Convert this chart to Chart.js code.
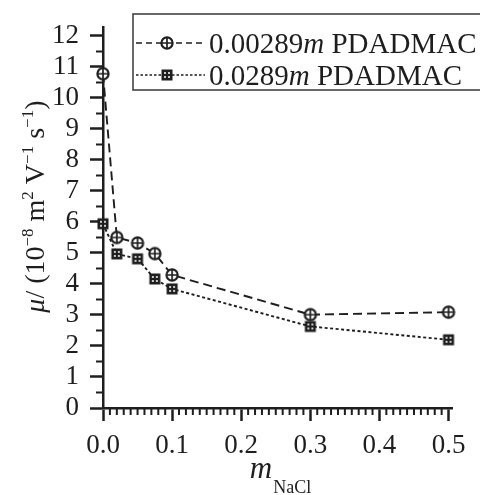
<!DOCTYPE html>
<html>
<head>
<meta charset="utf-8">
<script src="https://cdn.jsdelivr.net/npm/chart.js@4.4.1/dist/chart.umd.min.js"></script>
<style>
    html, body { margin: 0; padding: 0; background: #fff; }
</style>
</head>
<body>
<canvas id="mobility" width="480" height="495"></canvas>
<script>
    // Data
    var nacl = [0, 0.02, 0.05, 0.075, 0.1, 0.3, 0.5];
    var muLow = [10.78, 5.5, 5.32, 4.98, 4.29, 3.01, 3.09];   // 0.00289m PDADMAC
    var muHigh = [5.94, 4.97, 4.81, 4.16, 3.84, 2.63, 2.2];   // 0.0289m PDADMAC
    var xTicks = [0, 0.1, 0.2, 0.3, 0.4, 0.5];
    var yTicks = [0, 1, 2, 3, 4, 5, 6, 7, 8, 9, 10, 11, 12];
    var seriesNames = ["0.00289", "0.0289"];

    var ink = "#1e1e1e";
    var serif = "'Liberation Serif', 'DejaVu Serif', serif";

    // marker images
    function circlePlus() {
        var c = document.createElement("canvas");
        c.width = 16; c.height = 16;
        var g = c.getContext("2d");
        g.strokeStyle = ink;
        g.fillStyle = "#fff";
        g.lineWidth = 2.2;
        g.beginPath();
        g.arc(8, 8, 5.6, 0, Math.PI * 2);
        g.fill();
        g.stroke();
        g.lineWidth = 1.7;
        g.beginPath();
        g.moveTo(2.5, 8); g.lineTo(13.5, 8);
        g.moveTo(8, 2.5); g.lineTo(8, 13.5);
        g.stroke();
        return c;
    }
    function dottedSquare() {
        var c = document.createElement("canvas");
        c.width = 14; c.height = 14;
        var g = c.getContext("2d");
        g.fillStyle = ink;
        g.fillRect(1.5, 1.5, 11, 11);
        g.fillStyle = "#ccc";
        g.fillRect(4, 4, 2, 2);
        g.fillRect(8, 4, 2, 2);
        g.fillRect(4, 8, 2, 2);
        g.fillRect(8, 8, 2, 2);
        return c;
    }
    var markerLow = circlePlus();
    var markerHigh = dottedSquare();

    function toPoints(xs, ys) {
        return xs.map(function (x, i) { return { x: x, y: ys[i] }; });
    }

    // minor ticks, axis titles and the legend box
    var extras = {
        id: "extras",
        afterDraw: function (chart) {
            var ctx = chart.ctx;
            var area = chart.chartArea;
            var xs = chart.scales.x, ys = chart.scales.y;
            ctx.save();
            ctx.strokeStyle = ink;
            ctx.lineWidth = 2;
            ctx.beginPath();
            for (var i = 1; i <= 50; i++) {
                if (i % 10 === 0) continue;
                var px = xs.getPixelForValue(i / 100);
                ctx.moveTo(px, area.bottom);
                ctx.lineTo(px, area.bottom + 7);
            }
            for (var j = 0; j < 12; j++) {
                var py = ys.getPixelForValue(j + 0.5);
                ctx.moveTo(area.left, py);
                ctx.lineTo(area.left - 7, py);
            }
            ctx.stroke();

            ctx.fillStyle = ink;
            ctx.textBaseline = "alphabetic";
            ctx.textAlign = "left";

            // x title: m_NaCl
            var cx = (area.left + area.right) / 2;
            ctx.font = "italic 31px " + serif;
            var mw = ctx.measureText("m").width;
            ctx.font = "18px " + serif;
            var sw = ctx.measureText("NaCl").width;
            var x0 = cx + 3 - (mw + sw + 1) / 2;
            ctx.font = "italic 31px " + serif;
            ctx.fillText("m", x0, 478);
            ctx.font = "18px " + serif;
            ctx.fillText("NaCl", x0 + mw + 1, 493);

            // y title: mu / (10^-8 m^2 V^-1 s^-1)
            var parts = [
                { t: "\u03bc", f: "italic 28px " },
                { t: "/ (10", f: "28px " },
                { t: "\u22128", f: "17px ", up: 11 },
                { t: " m", f: "28px " },
                { t: "2", f: "17px ", up: 11 },
                { t: " V", f: "28px " },
                { t: "\u22121", f: "17px ", up: 11 },
                { t: " s", f: "28px " },
                { t: "\u22121", f: "17px ", up: 11 },
                { t: ")", f: "28px " }
            ];
            var total = 0;
            parts.forEach(function (p) {
                ctx.font = p.f + serif;
                p.w = ctx.measureText(p.t).width;
                total += p.w;
            });
            ctx.translate(44, (area.top + area.bottom) / 2 - 11);
            ctx.rotate(-Math.PI / 2);
            var pos = -total / 2;
            parts.forEach(function (p) {
                ctx.font = p.f + serif;
                ctx.fillText(p.t, pos, -(p.up || 0));
                pos += p.w;
            });
            ctx.restore();

            // legend
            ctx.save();
            ctx.fillStyle = "#fff";
            ctx.strokeStyle = "#444";
            ctx.lineWidth = 1.6;
            ctx.fillRect(133, 14, 360, 76);
            ctx.strokeRect(133, 14, 360, 76);
            var rows = [
                { y: 43, dash: [6, 4], img: markerLow, name: seriesNames[0] },
                { y: 75, dash: [2.5, 2], img: markerHigh, name: seriesNames[1] }
            ];
            rows.forEach(function (r) {
                ctx.strokeStyle = ink;
                ctx.lineWidth = 1.6;
                ctx.setLineDash(r.dash);
                ctx.beginPath();
                ctx.moveTo(136, r.y);
                ctx.lineTo(205, r.y);
                ctx.stroke();
                ctx.setLineDash([]);
                ctx.drawImage(r.img, 167 - r.img.width / 2, r.y - r.img.height / 2);
                ctx.fillStyle = ink;
                ctx.textBaseline = "alphabetic";
                var tx = 209, base = r.y + 10;
                ctx.font = "29px " + serif;
                ctx.fillText(r.name, tx, base);
                tx += ctx.measureText(r.name).width;
                ctx.font = "italic 29px " + serif;
                ctx.fillText("m", tx, base);
                tx += ctx.measureText("m").width;
                ctx.font = "29px " + serif;
                ctx.fillText(" PDADMAC", tx, base);
            });
            ctx.restore();
        }
    };

    var axisFont = { family: serif, size: 27 };

    new Chart(document.getElementById("mobility"), {
        type: "scatter",
        data: {
            datasets: [{
                label: seriesNames[0] + "m PDADMAC",
                data: toPoints(nacl, muLow),
                showLine: true,
                borderColor: ink,
                borderWidth: 1.9,
                borderDash: [9, 5],
                pointStyle: markerLow,
                clip: false
            }, {
                label: seriesNames[1] + "m PDADMAC",
                data: toPoints(nacl, muHigh),
                showLine: true,
                borderColor: ink,
                borderWidth: 1.9,
                borderDash: [3, 2.5],
                pointStyle: markerHigh,
                clip: false
            }]
        },
        options: {
            responsive: false,
            animation: false,
            layout: { padding: { top: 15, right: 28, left: 0, bottom: 0 } },
            plugins: {
                legend: { display: false },
                tooltip: { enabled: false }
            },
            scales: {
                x: {
                    type: "linear",
                    min: 0,
                    max: 0.505,
                    afterBuildTicks: function (scale) {
                        scale.ticks = xTicks.map(function (v) { return { value: v }; });
                    },
                    afterFit: function (scale) { scale.height = 87; },
                    ticks: {
                        color: ink,
                        font: axisFont,
                        padding: 9,
                        maxRotation: 0,
                        autoSkip: false,
                        callback: function (v) { return v.toFixed(1); }
                    },
                    grid: { drawOnChartArea: false, tickLength: 13, tickWidth: 2.5, tickColor: ink },
                    border: { color: ink, width: 2.5 }
                },
                y: {
                    min: 0,
                    max: 12.28,
                    afterBuildTicks: function (scale) {
                        scale.ticks = yTicks.map(function (v) { return { value: v }; });
                    },
                    afterFit: function (scale) { scale.width = 103; },
                    ticks: { color: ink, font: axisFont, padding: 11, autoSkip: false },
                    grid: { drawOnChartArea: false, tickLength: 13, tickWidth: 2.5, tickColor: ink },
                    border: { color: ink, width: 2.5 }
                }
            }
        },
        plugins: [extras]
    });
</script>
</body>
</html>
